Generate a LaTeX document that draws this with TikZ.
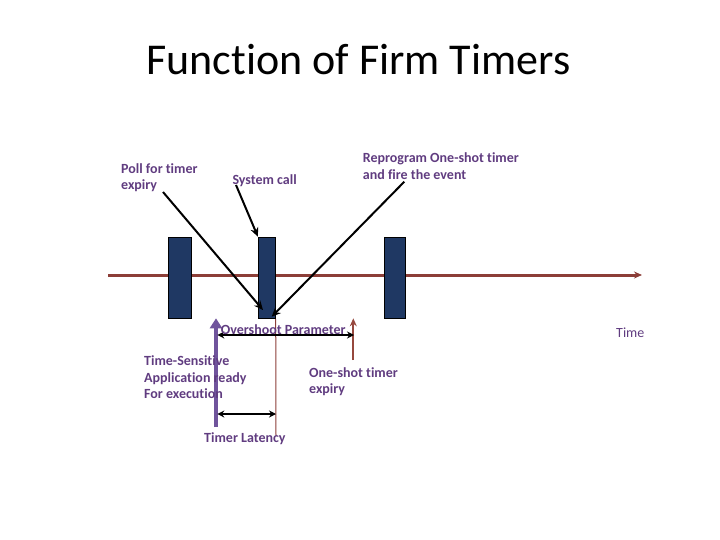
\documentclass[tikz,border=0pt]{standalone}
\usepackage{fontspec}
\setmainfont{Carlito}[Ligatures=NoCommon]
\usetikzlibrary{arrows.meta, positioning, calc}
\definecolor{blockblue}{RGB}{31,56,99}
\definecolor{axisbrown}{RGB}{140,62,56}
\definecolor{labelpurple}{RGB}{96,60,128}
\definecolor{readypurple}{RGB}{112,84,156}
\definecolor{expirybrown}{RGB}{150,72,62}

\begin{document}
\begin{tikzpicture}[x=1pt, y=-1pt,
  task/.style={draw=black, line width=0.8pt, fill=blockblue, minimum height=81.6pt, inner sep=0, anchor=north},
  lbl/.style={font=\bfseries\fontsize{14}{16.3}\selectfont, text=labelpurple, align=left, inner sep=0, anchor=base west},
  pointer/.style={black, line width=2pt, -{Stealth[length=9pt, width=8pt]}},
  span/.style={black, line width=2pt, {Stealth[length=7pt, width=7pt]}-{Stealth[length=7pt, width=7pt]}}]
  \useasboundingbox (0,0) rectangle (720,540);

  % Title
  \node[font=\fontsize{44}{52}\selectfont, anchor=base] (title) at (358.5,75) {Function of Firm Timers};

  % Time axis
  \coordinate (tstart) at (108,275);
  \coordinate (tend) at (642,275);
  \draw[axisbrown, line width=3pt, -{Stealth[length=8pt, width=7pt]}] (tstart) -- (tend);
  \node[lbl, font=\fontsize{14}{16}\selectfont] (timelbl) at (616,337.7) {Time};

  % Tasks on the time axis
  \foreach \name/\x/\w in {t1/179.8/23, t2/266.8/17, t3/395/21.4}{
    \node[task, minimum width=\w pt] (\name) at (\x,236.7) {};
  }

  % Labels above the axis
  \node[lbl] (poll) at (121,190) {Poll for timer\\expiry};
  \node[lbl] (syscall) at (232.3,185) {System call};
  \node[lbl] (reprog) at (362.7,179.3) {Reprogram One-shot timer\\and fire the event};

  % Pointers
  \coordinate (polltail) at (163,192);
  \coordinate (pollhit) at (263,310);
  \coordinate (calltail) at (236,185);
  \coordinate (reprogtail) at (404.3,181.7);
  \coordinate (reproghit) at (271.7,316.7);
  \draw[pointer] (polltail) -- (pollhit);
  \draw[pointer] (calltail) -- (t2.north west);
  \draw[pointer] (reprogtail) -- (reproghit);

  % Below the axis
  \coordinate (readybase) at (216,427);
  \coordinate (readytip) at (216,318.3);
  \draw[readypurple, line width=4.5pt, -{Triangle[length=10pt, width=12pt]}] (readybase) -- (readytip);

  \coordinate (expirybase) at (353.3,360);
  \coordinate (expirytip) at (353.3,318.3);
  \draw[expirybrown, line width=2.2pt, -{Stealth[length=8pt, width=7pt]}] (expirybase) -- (expirytip);

  \coordinate (latend) at (276,436);
  \draw[axisbrown, line width=1pt] (t2.south east) -- (latend);

  \coordinate (osleft) at (217.3,335);
  \coordinate (osright) at (354,335);
  \draw[span] (osleft) -- (osright);
  \coordinate (latleft) at (217.3,414);
  \coordinate (latright) at (276,414);
  \draw[span] (latleft) -- (latright);

  \node[lbl] (overshoot) at (220.7,334.7) {Overshoot Parameter};
  \node[lbl] (appready) at (144,398.3) {Time-Sensitive\\Application ready\\For execution};
  \node[lbl] (expirylbl) at (309,393.3) {One-shot timer\\expiry};
  \node[lbl] (latency) at (204,442.7) {Timer Latency};
\end{tikzpicture}
\end{document}
